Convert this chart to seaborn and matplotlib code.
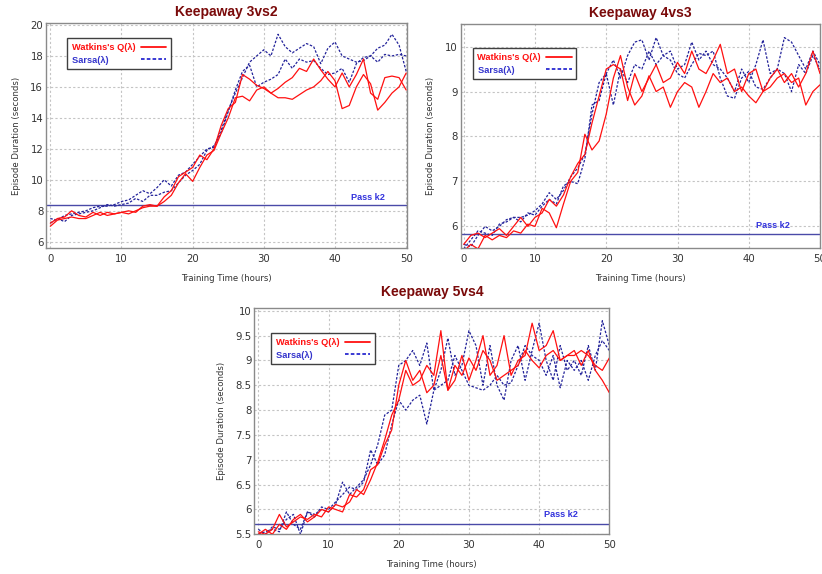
import matplotlib
matplotlib.use("Agg")
import matplotlib.pyplot as plt
import seaborn as sns
from matplotlib.lines import Line2D

# ==========================================================
# Data (one value per training hour)
# ==========================================================

HOURS = list(range(51))

TITLES = ["Keepaway 3vs2", "Keepaway 4vs3", "Keepaway 5vs4"]
PASS_K2 = [8.35, 5.84, 5.70]

# Keepaway 3vs2
q_3v2_a = [7.2, 7.5, 7.6, 8.0, 7.7, 7.6, 7.9, 7.7, 7.9, 7.8, 7.9, 8.0, 7.9, 8.3, 8.4,
           8.3, 8.9, 9.3, 10.2, 10.5, 10.8, 11.6, 11.3, 12.0, 13.5, 14.6, 15.0, 16.8, 16.5, 16.1,
           15.9, 15.6, 15.9, 16.3, 16.6, 17.2, 17.0, 17.8, 17.1, 16.5, 16.0, 16.9, 16.0, 16.8, 17.8,
           15.6, 15.2, 16.6, 16.7, 16.6, 15.8]
q_3v2_b = [7.0, 7.4, 7.5, 7.6, 7.5, 7.5, 7.7, 7.9, 7.7, 7.8, 7.9, 7.8, 8.0, 8.2, 8.3,
           8.3, 8.6, 9.0, 9.8, 10.4, 9.9, 10.8, 11.6, 11.9, 13.0, 14.0, 15.3, 15.4, 15.1, 15.8,
           16.0, 15.6, 15.3, 15.3, 15.2, 15.5, 15.8, 16.0, 16.4, 17.0, 16.4, 14.6, 14.8, 16.0, 16.8,
           16.2, 14.5, 15.0, 15.6, 16.0, 16.9]
s_3v2_a = [7.5, 7.4, 7.7, 7.8, 7.9, 8.0, 8.2, 8.3, 8.3, 8.4, 8.6, 8.7, 9.0, 9.3, 9.1,
           9.5, 10.0, 9.6, 10.3, 10.5, 11.0, 11.5, 12.0, 12.1, 13.2, 14.5, 15.6, 16.6, 17.6, 18.0,
           18.4, 18.0, 19.4, 18.6, 18.2, 18.5, 18.8, 18.6, 17.5, 18.5, 18.9, 18.0, 17.8, 17.6, 17.7,
           18.0, 18.5, 18.7, 19.4, 18.7, 17.0]
s_3v2_b = [7.2, 7.5, 7.3, 7.7, 7.8, 7.9, 8.0, 8.2, 8.4, 8.3, 8.4, 8.5, 8.8, 8.6, 9.0,
           9.0, 9.2, 9.3, 9.8, 10.3, 10.6, 11.0, 11.9, 12.2, 13.0, 14.4, 15.8, 17.0, 17.4, 16.0,
           16.3, 16.5, 16.8, 17.8, 17.2, 17.8, 17.6, 17.7, 17.2, 16.8, 16.9, 17.2, 16.3, 17.5, 17.9,
           18.0, 17.6, 18.1, 18.0, 18.1, 18.0]

# Keepaway 4vs3
q_4v3_a = [5.6, 5.8, 5.85, 5.75, 5.85, 5.95, 5.8, 6.0, 6.2, 6.0, 6.2, 6.3, 6.6, 6.45, 6.7,
           7.1, 7.4, 7.6, 8.3, 8.9, 9.5, 9.6, 9.5, 8.8, 9.4, 9.0, 9.3, 9.6, 9.2, 9.3,
           9.65, 9.4, 9.9, 9.5, 9.4, 9.7, 10.05, 9.4, 9.5, 9.0, 9.4, 9.5, 9.0, 9.3, 9.5,
           9.2, 9.4, 9.1, 9.4, 9.9, 9.4]
q_4v3_b = [5.45, 5.6, 5.5, 5.8, 5.7, 5.8, 5.75, 5.9, 5.85, 6.05, 6.0, 6.4, 6.3, 5.97, 6.5,
           7.0, 7.2, 8.05, 7.7, 7.9, 8.5, 9.3, 9.8, 9.1, 8.7, 8.9, 9.35, 9.0, 9.1, 8.65,
           9.0, 9.2, 9.1, 8.65, 9.0, 9.4, 9.2, 9.3, 9.0, 9.1, 8.9, 8.75, 9.0, 9.1, 9.3,
           9.4, 9.2, 9.3, 8.7, 9.0, 9.15]
s_4v3_a = [5.6, 5.55, 5.8, 6.0, 5.9, 6.0, 6.15, 6.2, 6.2, 6.25, 6.35, 6.5, 6.75, 6.6, 6.8,
           7.1, 7.3, 7.6, 8.5, 9.2, 9.4, 9.7, 9.3, 9.8, 10.1, 10.15, 9.7, 10.2, 9.8, 9.9,
           9.5, 9.6, 10.1, 9.7, 9.9, 9.6, 9.5, 9.3, 9.0, 9.5, 9.2, 9.6, 10.15, 9.4, 9.5,
           10.2, 10.1, 9.8, 9.5, 9.9, 9.6]
s_4v3_b = [5.5, 5.7, 5.9, 5.85, 5.8, 6.05, 6.1, 6.2, 6.1, 6.3, 6.25, 6.45, 6.6, 6.5, 6.9,
           7.0, 6.95, 7.5, 8.7, 8.8, 9.4, 8.7, 9.5, 9.2, 9.6, 9.5, 9.9, 9.6, 9.8, 9.7,
           9.4, 9.3, 9.6, 9.85, 9.8, 9.9, 9.3, 8.9, 8.85, 9.3, 9.45, 9.1, 9.05, 9.3, 9.5,
           9.4, 9.0, 9.6, 9.4, 9.8, 9.5]

# Keepaway 5vs4
q_5v4_a = [5.55, 5.5, 5.6, 5.9, 5.65, 5.75, 5.85, 5.8, 5.9, 5.85, 6.05, 6.0, 5.95, 6.3, 6.25,
           6.4, 6.8, 6.9, 7.3, 7.6, 8.5, 9.0, 8.6, 8.8, 8.35, 8.5, 9.1, 8.4, 8.6, 9.1,
           8.6, 9.0, 9.5, 8.7, 8.9, 9.5, 8.7, 9.0, 9.1, 9.75, 9.2, 9.3, 9.6, 9.0, 9.1,
           9.2, 8.9, 9.2, 8.8, 8.6, 8.35]
q_5v4_b = [5.5, 5.6, 5.5, 5.7, 5.6, 5.8, 5.9, 5.75, 5.85, 6.0, 5.95, 6.1, 6.05, 6.15, 6.4,
           6.3, 6.6, 6.95, 7.4, 7.9, 8.2, 8.8, 8.5, 8.6, 8.9, 8.7, 9.6, 8.4, 8.9, 8.7,
           9.05, 8.8, 9.2, 9.0, 8.6, 8.7, 8.8, 8.9, 9.2, 9.0, 8.85, 9.1, 9.2, 9.0, 9.1,
           9.1, 9.2, 9.1, 8.9, 8.8, 9.05]
s_5v4_a = [5.5, 5.55, 5.6, 5.55, 5.95, 5.7, 5.6, 5.95, 5.9, 6.0, 5.95, 6.1, 6.55, 6.3, 6.45,
           6.6, 6.9, 7.3, 7.9, 8.0, 8.9, 9.0, 9.2, 8.9, 9.35, 8.4, 8.8, 9.45, 8.7, 8.9,
           9.6, 9.3, 8.5, 9.3, 8.5, 8.2, 9.0, 9.3, 8.6, 9.2, 9.75, 9.0, 8.6, 9.3, 8.8,
           9.0, 8.7, 9.3, 8.8, 9.8, 9.3]
s_5v4_b = [5.6, 5.5, 5.65, 5.6, 5.8, 5.9, 5.5, 5.95, 5.85, 6.05, 6.0, 6.15, 6.3, 6.45, 6.4,
           6.55, 7.2, 6.9, 7.1, 7.7, 8.2, 8.0, 8.2, 8.3, 7.72, 8.4, 8.5, 8.6, 9.1, 8.8,
           8.5, 8.45, 8.4, 8.5, 8.7, 8.5, 8.55, 8.9, 9.3, 9.1, 9.0, 8.7, 9.1, 8.45, 9.0,
           8.8, 9.0, 8.6, 9.1, 9.4, 9.2]

WATKINS = [q_3v2_a, q_3v2_b, q_4v3_a, q_4v3_b, q_5v4_a, q_5v4_b]
SARSA = [s_3v2_a, s_3v2_b, s_4v3_a, s_4v3_b, s_5v4_a, s_5v4_b]

LABELS = ["Watkins's Q(λ)", "Sarsa(λ)"]

Y_TICKS = [
    [6, 8, 10, 12, 14, 16, 18, 20],
    [6, 7, 8, 9, 10],
    [5.5, 6, 6.5, 7, 7.5, 8, 8.5, 9, 9.5, 10],
]
Y_TICK_LABELS = [
    ["6", "8", "10", "12", "14", "16", "18", "20"],
    ["6", "7", "8", "9", "10"],
    ["5.5", "6", "6.5", "7", "7.5", "8", "8.5", "9", "9.5", "10"],
]

# ==========================================================
# Styling / layout
# ==========================================================

RED = "#ff1010"
BLUE = "#23239a"
PASS_BLUE = "#4a4aa8"
TITLE_RED = "#7a0a0a"
BOLD_FONT = ["Liberation Sans", "DejaVu Sans"]

AXES_RECTS = [
    (0.056, 0.568, 0.439, 0.392),
    (0.5605, 0.568, 0.4371, 0.390),
    (0.3094, 0.0692, 0.4319, 0.3937),
]
XLIMS = [(-0.6, 50.1), (-0.42, 49.7), (-0.57, 50.0)]
YLIMS = [(5.6, 20.13), (5.52, 10.5), (5.5, 10.05)]
LEGEND_ANCHORS = [(0.058, 0.932), (0.033, 0.892), (0.047, 0.89)]
PASS_X = [44.6, 43.4, 43.1]
PASS_OFFSET = [6.0, 5.5, 7.0]
TITLE_PAD = [5, 5, 9]


def style_axes(ax, idx):
    ax.set_xlim(*XLIMS[idx])
    ax.set_ylim(*YLIMS[idx])
    ax.set_xticks([0, 10, 20, 30, 40, 50])
    ax.set_yticks(Y_TICKS[idx])
    ax.set_yticklabels(Y_TICK_LABELS[idx])
    ax.grid(True, color="#c4c4c4", linestyle=(0, (2, 2)), linewidth=0.8)
    for spine in ax.spines.values():
        spine.set_color("#8a8a8a")
        spine.set_linewidth(1.0)
    ax.tick_params(axis="both", labelsize=7.3, colors="#8a8a8a",
                   labelcolor="#333333", length=3, direction="in", pad=4)
    ax.tick_params(axis="y", pad=2)
    ax.set_xlabel("Training Time (hours)", fontsize=6.1, color="#333333", labelpad=7.5)
    ax.set_ylabel("Episode Duration (seconds)", fontsize=6.1, color="#333333", labelpad=7)
    ax.set_title(TITLES[idx], fontsize=10, fontweight="bold", family=BOLD_FONT,
                 color=TITLE_RED, pad=TITLE_PAD[idx])


def add_legend(fig, ax, idx):
    handles = [
        Line2D([], [], color=RED, linewidth=1.3),
        Line2D([], [], color="#2a2ad0", linewidth=1.3, linestyle=(0, (2, 1.2))),
    ]
    leg = ax.legend(handles, LABELS,
                    loc="upper left", bbox_to_anchor=LEGEND_ANCHORS[idx],
                    borderaxespad=0, markerfirst=False, fancybox=False,
                    framealpha=1, edgecolor="#404040",
                    prop={"weight": "bold", "size": 6.7, "family": BOLD_FONT},
                    handlelength=2.7, handletextpad=0.6,
                    borderpad=0.5, labelspacing=0.4)
    leg.get_frame().set_linewidth(1.0)
    top_text, low_text = leg.get_texts()
    top_text.set_color(RED)
    low_text.set_color("#3333cc")

    # keep the labels left-aligned while the handles sit on the right
    renderer = fig.canvas.get_renderer()
    target = top_text.get_window_extent(renderer).width
    label = LABELS[1]
    while low_text.get_window_extent(renderer).width < target - 1.5:
        label += " "
        low_text.set_text(label)


def main():
    sns.set_style("white")
    plt.rcParams["font.family"] = ["DejaVu Sans"]

    fig = plt.figure(figsize=(8.22, 5.74), dpi=100)

    for idx in range(3):
        ax = fig.add_axes(AXES_RECTS[idx])
        ax.set_axisbelow(True)

        ax.axhline(PASS_K2[idx], color=PASS_BLUE, linewidth=1.0, zorder=1)
        ax.annotate("Pass k2", xy=(PASS_X[idx], PASS_K2[idx]),
                    xytext=(0, PASS_OFFSET[idx]), textcoords="offset points",
                    ha="center", va="center", fontsize=6.6, family=BOLD_FONT,
                    fontweight="bold", color="#3333dd")

        for series in SARSA[2 * idx: 2 * idx + 2]:
            sns.lineplot(x=HOURS, y=series, ax=ax, color=BLUE, linewidth=0.9,
                         linestyle=(0, (2, 1.3)), zorder=2)
        for series in WATKINS[2 * idx: 2 * idx + 2]:
            sns.lineplot(x=HOURS, y=series, ax=ax, color=RED, linewidth=0.9,
                         zorder=3)

        style_axes(ax, idx)
        add_legend(fig, ax, idx)

    fig.savefig("out.png", dpi=100)


if __name__ == "__main__":
    main()
